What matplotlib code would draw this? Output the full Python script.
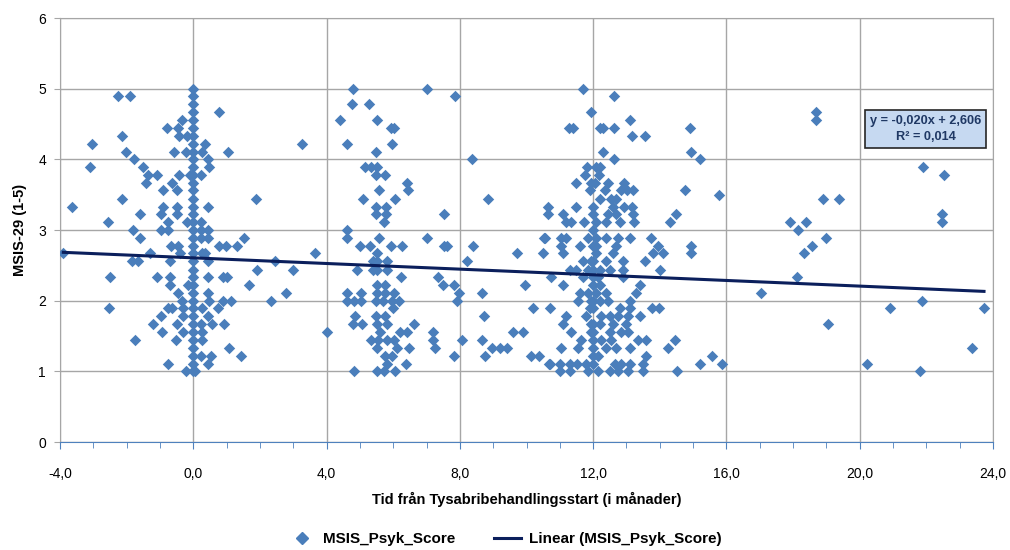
import numpy as np
import matplotlib.pyplot as plt
from matplotlib.ticker import MultipleLocator, FuncFormatter
from matplotlib.lines import Line2D

plt.rcParams['font.family'] = ['Liberation Sans Narrow', 'Liberation Sans', 'DejaVu Sans']

# --- data ---
# points around treatment start (x = months, y = MSIS-29 psych score)
baseline_pts = [
    (-2.25, 4.89), (-1.9, 4.89), (0.78, 4.67), (-0.35, 4.56), (-0.79, 4.45), (-0.47, 4.45),
    (-0.42, 4.33), (-2.13, 4.33), (-0.2, 4.33), (-3.04, 4.22), (0.34, 4.22), (3.25, 4.22),
    (-2.03, 4.11), (-0.57, 4.11), (-0.22, 4.11), (0.26, 4.11), (1.04, 4.11), (-1.78, 4.0),
    (0.43, 4.0), (-3.09, 3.89), (-1.52, 3.89), (0.48, 3.89), (-1.35, 3.78), (-1.1, 3.78),
    (-0.42, 3.78), (-0.1, 3.78), (0.22, 3.78), (-1.43, 3.67), (-0.65, 3.67), (-0.92, 3.56),
    (-0.48, 3.56), (-3.65, 3.33), (-2.13, 3.44), (1.88, 3.44), (-0.92, 3.33), (-0.48, 3.33),
    (0.45, 3.33), (-1.6, 3.22), (-2.55, 3.11), (-0.97, 3.22), (-0.48, 3.22), (-0.75, 3.11),
    (-0.2, 3.11), (0.22, 3.11), (-1.8, 3.0), (-0.97, 3.0), (-0.75, 3.0), (-1.6, 2.89),
    (-0.67, 2.78), (-0.47, 2.78), (0.23, 2.89), (0.45, 2.89), (0.23, 3.0), (0.45, 3.0),
    (0.78, 2.78), (0.97, 2.78), (1.32, 2.78), (1.53, 2.89), (-3.9, 2.67), (-1.3, 2.67),
    (-0.4, 2.67), (0.25, 2.67), (0.35, 2.67), (3.65, 2.67), (-1.83, 2.56), (-1.65, 2.56),
    (-0.7, 2.56), (0.43, 2.56), (2.45, 2.56), (-2.49, 2.33), (-1.08, 2.33), (-0.7, 2.33),
    (0.43, 2.33), (0.88, 2.33), (1.0, 2.33), (1.9, 2.44), (2.98, 2.44), (-0.7, 2.22),
    (-0.17, 2.22), (1.67, 2.22), (-0.47, 2.11), (0.43, 2.11), (2.77, 2.11), (-0.35, 2.0),
    (0.48, 2.0), (0.9, 2.0), (1.13, 2.0), (2.32, 2.0), (-2.52, 1.89), (-0.75, 1.89),
    (-0.63, 1.89), (-0.3, 1.89), (0.25, 1.89), (0.73, 1.89), (-0.97, 1.78), (-0.3, 1.78),
    (0.43, 1.78), (-1.2, 1.67), (-0.48, 1.67), (0.23, 1.67), (0.55, 1.67), (0.92, 1.67),
    (-0.93, 1.56), (-0.3, 1.56), (0.25, 1.56), (4.02, 1.56), (-1.75, 1.44), (-0.53, 1.44),
    (0.25, 1.44), (1.08, 1.33), (1.43, 1.22), (0.23, 1.22), (0.52, 1.22), (-0.75, 1.11),
    (0.45, 1.11), (-0.22, 1.0), (0.05, 1.0),
]
# the dense column exactly at month 0
start_col_y = [1.0, 1.11, 1.22, 1.33, 1.44, 1.56, 1.67, 1.78, 1.89, 2.0, 2.11, 2.22, 2.33,
               2.44, 2.56, 2.67, 2.78, 2.89, 3.0, 3.11, 3.22, 3.33, 3.44, 3.56, 3.67, 3.78,
               3.89, 4.0, 4.11, 4.22, 4.33, 4.44, 4.56, 4.67, 4.78, 4.89, 5.0]

six_month_pts = [
    (4.8, 5.0), (7.0, 5.0), (7.86, 4.89), (4.77, 4.78), (5.28, 4.78), (4.39, 4.56), (5.51, 4.56),
    (5.92, 4.45), (6.03, 4.45), (4.62, 4.22), (5.95, 4.22), (5.48, 4.11), (8.37, 4.0),
    (5.15, 3.89), (5.33, 3.89), (5.52, 3.89), (5.48, 3.78), (5.75, 3.78), (6.4, 3.67),
    (6.45, 3.56), (5.58, 3.56), (5.1, 3.44), (6.05, 3.44), (8.84, 3.44), (5.48, 3.33),
    (5.78, 3.33), (5.49, 3.22), (5.79, 3.22), (7.52, 3.22), (5.72, 3.11), (4.6, 3.0),
    (10.64, 3.33), (10.64, 3.22), (4.6, 2.89), (5.0, 2.78), (5.3, 2.78), (5.57, 2.89),
    (5.93, 2.78), (6.26, 2.78), (7.02, 2.89), (7.52, 2.78), (7.62, 2.78), (8.4, 2.78),
    (10.53, 2.89), (10.5, 2.67), (9.7, 2.67), (5.5, 2.67), (5.38, 2.56), (5.52, 2.56),
    (5.8, 2.56), (4.9, 2.44), (5.38, 2.44), (5.52, 2.44), (5.8, 2.44), (8.2, 2.56),
    (6.22, 2.33), (7.35, 2.33), (7.5, 2.22), (7.82, 2.22), (9.96, 2.22), (5.5, 2.22),
    (5.75, 2.22), (4.6, 2.11), (5.03, 2.11), (5.5, 2.11), (5.75, 2.11), (6.03, 2.11),
    (7.98, 2.11), (8.65, 2.11), (4.6, 2.0), (4.83, 2.0), (5.03, 2.0), (5.48, 2.0), (5.7, 2.0),
    (5.95, 2.0), (6.17, 2.0), (7.9, 2.0), (5.98, 1.89), (10.2, 1.89), (4.85, 1.78),
    (5.48, 1.78), (5.75, 1.78), (8.73, 1.78), (4.78, 1.67), (5.05, 1.67), (5.5, 1.67),
    (5.82, 1.67), (6.63, 1.67), (5.6, 1.56), (6.2, 1.56), (6.4, 1.56), (7.18, 1.56),
    (9.6, 1.56), (9.9, 1.56), (5.33, 1.44), (5.55, 1.44), (5.8, 1.44), (6.03, 1.44),
    (7.18, 1.44), (8.07, 1.44), (8.67, 1.44), (5.52, 1.33), (6.1, 1.33), (6.48, 1.33),
    (7.25, 1.33), (8.95, 1.33), (9.2, 1.33), (9.4, 1.33), (5.75, 1.22), (5.95, 1.22),
    (7.83, 1.22), (8.75, 1.22), (10.15, 1.22), (10.38, 1.22), (5.8, 1.11), (6.38, 1.11),
    (10.68, 1.11), (4.83, 1.0), (5.5, 1.0), (5.72, 1.0), (6.05, 1.0),
]

twelve_month_pts = [
    (11.7, 5.0), (12.62, 4.89), (11.93, 4.67), (13.1, 4.56), (11.28, 4.45), (11.4, 4.45),
    (12.2, 4.45), (12.3, 4.45), (12.62, 4.45), (14.9, 4.45), (13.18, 4.33), (13.55, 4.33),
    (12.29, 4.11), (12.62, 4.0), (14.95, 4.11), (15.2, 4.0), (11.83, 3.89), (12.1, 3.89),
    (12.2, 3.89), (11.77, 3.78), (12.17, 3.78), (11.5, 3.67), (11.95, 3.67), (12.05, 3.67),
    (12.45, 3.67), (12.93, 3.67), (11.9, 3.56), (12.35, 3.56), (12.83, 3.56), (13.03, 3.56),
    (13.2, 3.56), (14.75, 3.56), (15.78, 3.5), (11.5, 3.33), (12.0, 3.33), (12.2, 3.44),
    (12.55, 3.44), (12.7, 3.44), (12.6, 3.33), (12.93, 3.33), (13.17, 3.33), (11.1, 3.22),
    (12.45, 3.22), (12.7, 3.22), (13.2, 3.22), (14.48, 3.22), (11.2, 3.11), (11.35, 3.11),
    (11.72, 3.11), (12.1, 3.11), (12.4, 3.11), (12.8, 3.11), (13.24, 3.11), (14.3, 3.11),
    (10.55, 2.89), (11.05, 2.89), (11.2, 2.89), (11.85, 2.89), (12.1, 2.89), (12.4, 2.89),
    (12.75, 2.89), (13.1, 2.89), (13.75, 2.89), (11.05, 2.78), (11.6, 2.78), (12.1, 2.78),
    (12.7, 2.78), (13.95, 2.78), (14.95, 2.78), (14.95, 2.67), (11.1, 2.67), (12.1, 2.67),
    (12.6, 2.67), (13.8, 2.67), (14.1, 2.67), (11.7, 2.56), (11.95, 2.56), (12.4, 2.56),
    (12.9, 2.56), (13.55, 2.56), (11.3, 2.44), (11.5, 2.44), (11.85, 2.44), (12.2, 2.44),
    (12.5, 2.44), (12.9, 2.44), (14.0, 2.44), (10.75, 2.33), (11.7, 2.33), (12.15, 2.33),
    (12.9, 2.33), (11.1, 2.22), (12.2, 2.22), (13.4, 2.22), (11.6, 2.11), (11.85, 2.11),
    (12.1, 2.11), (12.4, 2.11), (13.3, 2.11), (11.55, 2.0), (11.95, 2.0), (12.2, 2.0),
    (12.45, 2.0), (13.1, 2.0), (10.72, 1.89), (11.9, 1.89), (12.8, 1.89), (13.1, 1.89),
    (13.78, 1.89), (13.98, 1.89), (11.2, 1.78), (11.8, 1.78), (12.25, 1.78), (12.5, 1.78),
    (12.75, 1.78), (13.05, 1.78), (13.4, 1.78), (11.1, 1.67), (11.95, 1.67), (12.2, 1.67),
    (12.6, 1.67), (13.0, 1.67), (11.35, 1.56), (11.95, 1.56), (12.5, 1.56), (12.85, 1.56),
    (13.05, 1.56), (11.65, 1.44), (12.0, 1.44), (12.25, 1.44), (12.55, 1.44), (13.35, 1.44),
    (13.6, 1.44), (14.47, 1.44), (11.05, 1.33), (11.55, 1.33), (12.0, 1.33), (12.4, 1.33),
    (12.7, 1.33), (13.1, 1.33), (14.25, 1.33), (12.15, 1.22), (13.6, 1.22), (15.58, 1.22),
    (10.72, 1.11), (11.0, 1.11), (11.3, 1.11), (11.52, 1.11), (11.78, 1.11), (12.0, 1.11),
    (12.65, 1.11), (12.85, 1.11), (13.1, 1.11), (13.5, 1.11), (15.2, 1.11), (15.87, 1.11),
    (11.0, 1.0), (11.3, 1.0), (11.85, 1.0), (12.15, 1.0), (12.5, 1.0), (12.75, 1.0),
    (13.05, 1.0), (13.5, 1.0), (14.53, 1.0),
]
# dense column close to month 12
twelve_col_y = [1.22, 1.56, 1.67, 1.89, 2.0, 2.22, 2.33, 2.44, 2.56, 2.78, 3.0, 3.22]

late_pts = [
    (18.68, 4.67), (18.68, 4.56), (21.9, 3.89), (22.52, 3.78), (18.9, 3.44), (19.38, 3.44),
    (22.47, 3.22), (22.47, 3.11), (17.92, 3.11), (18.38, 3.11), (18.15, 3.0), (19.0, 2.89),
    (18.56, 2.78), (18.32, 2.67), (18.12, 2.33), (17.03, 2.11), (19.04, 1.67), (20.9, 1.89),
    (21.88, 2.0), (23.73, 1.89), (23.38, 1.33), (20.23, 1.11), (21.8, 1.0),
]

slope, intercept, r2 = -0.020, 2.606, 0.014

pts = np.array(baseline_pts + six_month_pts + twelve_month_pts + late_pts)
x = np.concatenate([pts[:, 0], np.zeros(len(start_col_y)), np.full(len(twelve_col_y), 12.0)])
y = np.concatenate([pts[:, 1], start_col_y, twelve_col_y])

# --- plot ---
fig = plt.figure(figsize=(10.1, 5.5), dpi=100)
ax = fig.add_axes([60 / 1010, 1 - 442 / 550, 933 / 1010, 424 / 550])

ax.scatter(x, y, marker='D', s=34, color='#4a7ebb', linewidths=0, zorder=3)
xl = np.array([x.min(), x.max()])
ax.plot(xl, slope * xl + intercept, color='#0b1f5c', lw=2.2, zorder=4)

ax.set_xlim(-4, 24)
ax.set_ylim(0, 6)
ax.xaxis.set_major_locator(MultipleLocator(4))
ax.xaxis.set_minor_locator(MultipleLocator(1))
ax.yaxis.set_major_locator(MultipleLocator(1))
ax.xaxis.set_major_formatter(FuncFormatter(lambda v, p: f"{v:.1f}".replace('.', ',')))
ax.yaxis.set_major_formatter(FuncFormatter(lambda v, p: f"{v:.0f}"))
ax.grid(True, which='major', color='#a6a6a6', lw=1.0)
ax.set_axisbelow(True)

for s in ['top', 'right', 'left']:
    ax.spines[s].set_color('#a6a6a6')
ax.spines['bottom'].set_color('#4f81bd')
ax.tick_params(axis='x', which='major', length=5, color='#4f81bd', labelsize=10, pad=13)
ax.tick_params(axis='x', which='minor', length=4, color='#4f81bd')
ax.tick_params(axis='y', length=4, color='#a6a6a6', labelsize=10, pad=6)

ax.set_xlabel('Tid från Tysabribehandlingsstart (i månader)', fontsize=10.5, fontweight='bold', labelpad=8)
ax.set_ylabel('MSIS-29 (1-5)', fontsize=10.5, fontweight='bold', labelpad=8)

ax.text(21.98, 4.43, f"y = {slope:.3f}x + {intercept:.3f}\nR² = {r2:.3f}".replace('.', ','),
        ha='center', va='center', multialignment='center', color='#1f3864',
        fontsize=9.2, fontweight='bold', zorder=5, linespacing=1.5,
        bbox=dict(boxstyle='square,pad=0.4', fc='#c6d9f1', ec='#262626', lw=1.2))

handles = [Line2D([], [], marker='D', ls='none', color='#4a7ebb', markersize=6),
           Line2D([], [], color='#0b1f5c', lw=2.2)]
fig.legend(handles, ['MSIS_Psyk_Score', 'Linear (MSIS_Psyk_Score)'], loc='lower center',
           bbox_to_anchor=(0.5, -0.018), ncol=2, frameon=False, columnspacing=2.5,
           handlelength=1.8, handletextpad=0.5, prop={'size': 11, 'weight': 'bold'})

fig.savefig('out.png', dpi=100)
